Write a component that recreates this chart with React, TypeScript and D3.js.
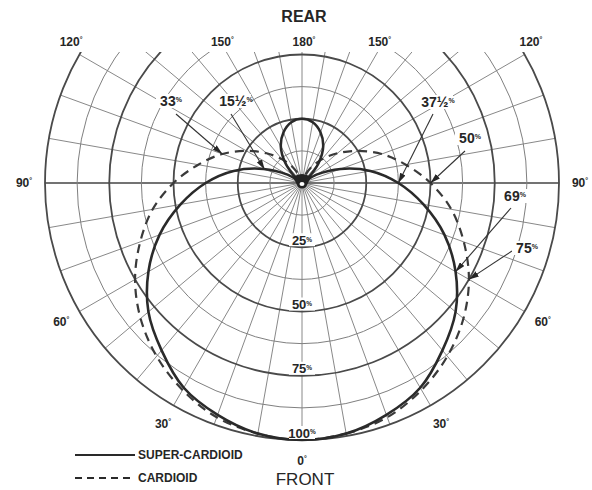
import React from 'react';
import * as d3 from 'd3';

// pattern readings, percent of the front response, every 10 deg from the front (right half; left is mirrored)
const superAngles = [0, 10, 20, 30, 40, 50, 60, 70, 80, 90, 100, 110, 120, 127, 130, 140, 150, 160, 170, 180];
const superValues = [100, 99, 96, 92, 85, 78, 69, 59, 48, 37.5, 27, 16, 6.5, 0, 3, 10, 16.5, 21, 24, 25];
const cardioidAngles = [0, 10, 20, 30, 40, 50, 60, 70, 80, 90, 100, 110, 120, 130, 140, 150, 160, 170, 180];
const cardioidValues = [100, 99, 97, 93, 88, 82, 75, 67, 59, 50, 41, 33, 25, 18, 12, 7, 3, 1, 0];

const ringValues = [12.5, 25, 37.5, 50, 62.5, 75, 87.5, 100];
const ringLabels = ['25', '50', '75', '100'];
const degreeLabels = ['0', '30', '60', '90', '120', '150', '180'];

const calloutLabels = ['33', '15½', '37½', '50', '69', '75'];
const calloutAngles = [-110, -110, 90, 90, 60, 60];
const calloutValues = [33, 15.5, 37.5, 50, 69, 75];

const legendLabels = ['SUPER-CARDIOID', 'CARDIOID'];

const W = 592, H = 490;
const cx = 302, cy = 183, R = 257;
const clipTop = 52;
const font = "'Liberation Sans', Arial, sans-serif";
const ink = '#262626';

const r = d3.scaleLinear().domain([0, 100]).range([0, R]);
const polar = (deg: number, v: number): [number, number] => {
  const a = (deg * Math.PI) / 180;
  return [cx + r(v) * Math.sin(a), cy + r(v) * Math.cos(a)];
};

// full closed pattern: right half then mirrored left half
const mirror = (angles: number[], values: number[]) => {
  const pts: [number, number][] = angles.map((a, i) => [a, values[i]]);
  const left: [number, number][] = angles
    .map((a, i) => [-a, values[i]] as [number, number])
    .filter(d => d[0] !== 0 && d[0] !== -180)
    .reverse();
  return pts.concat(left);
};

const radial = d3.lineRadial<[number, number]>()
  .angle(d => Math.PI - (d[0] * Math.PI) / 180)
  .radius(d => r(d[1]))
  .curve(d3.curveCatmullRomClosed.alpha(0.5));

// label layout (text centre, arrow tail)
const calloutPos: [number, number, number, number][] = [
  [171, 101, 176, 114],
  [236, 101, 231, 114],
  [438, 102, 433, 114],
  [470, 138, 465, 151],
  [515, 196, 511, 208],
  [527, 248, 512, 251],
];

const Pct: React.FC<{ x: number; y: number; label: string; size?: number }> = ({ x, y, label, size = 14 }) => (
  <text x={x} y={y} textAnchor="middle" dy="0.35em" fontFamily={font} fontWeight="bold" fontSize={size} fill={ink}>
    {label}
    <tspan fontSize={size * 0.5} dy={-size * 0.25}>%</tspan>
  </text>
);

const Deg: React.FC<{ x: number; y: number; label: string }> = ({ x, y, label }) => (
  <text x={x} y={y} textAnchor="middle" dy="0.35em" fontFamily={font} fontWeight="bold" fontSize={12} fill={ink}>
    {label}
    <tspan fontSize={7} dy={-4}>°</tspan>
  </text>
);

const App: React.FC = () => {
  const spokes = d3.range(0, 360, 10);

  // degree label positions: lower half outside the rim, upper half along the clipped top edge
  const degPos = degreeLabels.flatMap(l => {
    const a = +l;
    if (a <= 90) {
      const p1 = polar(a, 100 * (R + 21) / R);
      const p2 = polar(-a, 100 * (R + 21) / R);
      return a === 0 ? [{ l, p: p1 }] : [{ l, p: p1 }, { l, p: p2 }];
    }
    const dx = (cy - clipTop) * Math.tan(((180 - a) * Math.PI) / 180);
    const y = 42;
    return a === 180 ? [{ l, p: [cx + 2, y] }] : [{ l, p: [cx + dx + 2, y] }, { l, p: [cx - dx - 4, y] }];
  });

  return (
    <svg width={W} height={H} style={{ position: 'absolute', left: 0, top: 0, background: '#fff' }}>
      <defs>
        <clipPath id="chartClip">
          <rect x={0} y={clipTop} width={W} height={H - clipTop} />
        </clipPath>
        <marker id="arrow" viewBox="0 0 10 6" refX={10} refY={3} markerWidth={10} markerHeight={6}
          markerUnits="userSpaceOnUse" orient="auto">
          <path d="M0,0 L10,3 L0,6 z" fill={ink} />
        </marker>
      </defs>

      <g clipPath="url(#chartClip)">
        {spokes.map(a => {
          const [x, y] = polar(a, 100);
          const axis = a === 90 || a === 270;
          return (
            <line key={a} x1={cx} y1={cy} x2={x} y2={y}
              stroke={axis ? '#444' : '#7a7a7a'} strokeWidth={axis ? 1.6 : 0.9} />
          );
        })}
        {ringValues.map(v => {
          const major = v % 25 === 0;
          return (
            <circle key={v} cx={cx} cy={cy} r={r(v)} fill="none"
              stroke={major ? '#4a4a4a' : '#808080'} strokeWidth={major ? 1.8 : 1} />
          );
        })}
      </g>

      {/* patterns */}
      <path d={radial(mirror(cardioidAngles, cardioidValues)) || ''} transform={`translate(${cx},${cy})`}
        fill="none" stroke="#3a3a3a" strokeWidth={2.2} strokeDasharray="9,6" />
      <path d={radial(mirror(superAngles, superValues)) || ''} transform={`translate(${cx},${cy})`}
        fill="none" stroke="#2a2a2a" strokeWidth={2.6} />

      {/* mic at centre */}
      <path d={`M${cx - 9},${cy - 6} Q${cx},${cy - 12} ${cx + 9},${cy - 6} L${cx + 4},${cy + 4} Q${cx},${cy + 7} ${cx - 4},${cy + 4} Z`}
        fill="#222" />
      <ellipse cx={cx} cy={cy + 1} rx={2.5} ry={2} fill="#fff" />

      {/* ring value labels */}
      {ringLabels.map(l => {
        const y = cy + r(+l) - 7;
        return (
          <g key={l}>
            <rect x={cx - 13} y={y - 7} width={26} height={13} fill="#fff" />
            <Pct x={cx} y={y} label={l} size={13} />
          </g>
        );
      })}

      {/* callouts */}
      {calloutLabels.map((l, i) => {
        const [tx, ty] = polar(calloutAngles[i], calloutValues[i]);
        const [lx, ly, ax, ay] = calloutPos[i];
        return (
          <g key={l}>
            <line x1={ax} y1={ay} x2={tx} y2={ty} stroke="#333" strokeWidth={1.1} markerEnd="url(#arrow)" />
            <rect x={lx - 15} y={ly - 7} width={30} height={14} fill="#fff" />
            <Pct x={lx} y={ly} label={l} />
          </g>
        );
      })}

      {degPos.map((d, i) => (
        <Deg key={i} x={d.p[0]} y={d.p[1]} label={d.l} />
      ))}

      <text x={cx + 2} y={16} textAnchor="middle" dy="0.35em" fontFamily={font} fontWeight="bold" fontSize={16} fill={ink}>REAR</text>
      <text x={cx + 3} y={479} textAnchor="middle" dy="0.35em" fontFamily={font} fontSize={17} fill={ink}>FRONT</text>

      {/* legend */}
      {legendLabels.map((l, i) => {
        const y = 455 + i * 23;
        return (
          <g key={l}>
            <line x1={75} x2={135} y1={y} y2={y} stroke="#2a2a2a" strokeWidth={2}
              strokeDasharray={i === 1 ? '7,5' : undefined} />
            <text x={138} y={y} dy="0.35em" fontFamily={font} fontWeight="bold" fontSize={12} fill={ink}>{l}</text>
          </g>
        );
      })}
    </svg>
  );
};

export default App;
